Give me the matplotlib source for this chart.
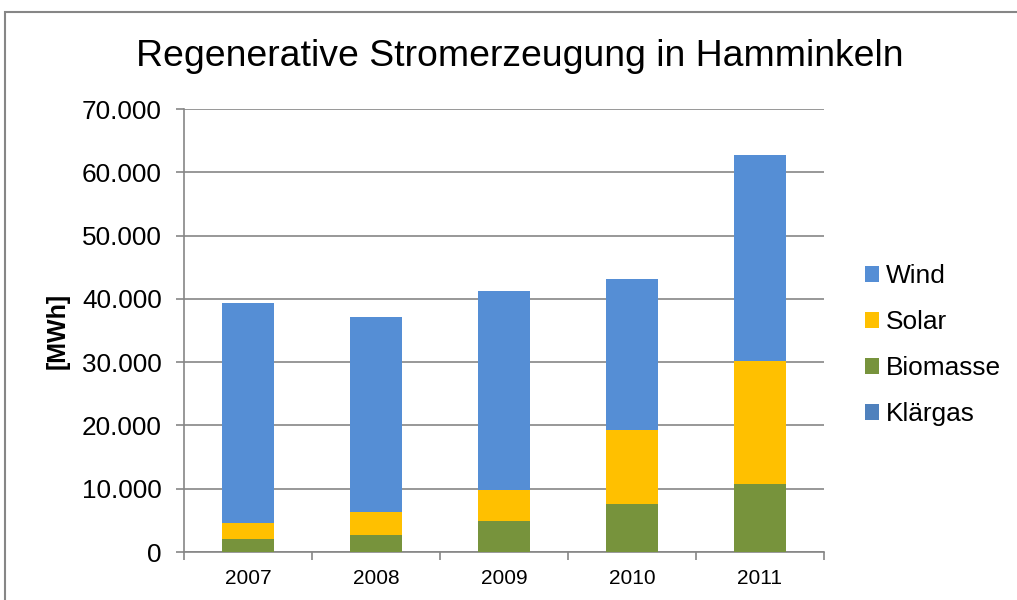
import matplotlib.pyplot as plt
from matplotlib.patches import Rectangle
from matplotlib.ticker import FuncFormatter, FixedLocator
import numpy as np

plt.rcParams['font.family'] = ['Liberation Sans', 'DejaVu Sans']

# Daten [MWh]
jahre = ['2007', '2008', '2009', '2010', '2011']
klaergas = [0, 0, 0, 0, 0]
biomasse = [2050, 2700, 4850, 7600, 10700]
solar = [2600, 3550, 4950, 11600, 19500]
wind = [34650, 30850, 31400, 23900, 32500]

farben = {'Wind': '#558ED5', 'Solar': '#FFC000', 'Biomasse': '#77933C', 'Klärgas': '#4F81BD'}

fig = plt.figure(figsize=(10.17, 6), dpi=100)
ax = fig.add_axes([184/1017, 1-552/600, (824-184)/1017, (552-109)/600])

x = np.arange(len(jahre))
breite = 0.41
unten = np.zeros(len(jahre))
handles = {}
for name, werte in [('Klärgas', klaergas), ('Biomasse', biomasse), ('Solar', solar), ('Wind', wind)]:
    h = ax.bar(x, werte, breite, bottom=unten, color=farben[name], label=name, zorder=3)
    handles[name] = h
    unten = unten + np.array(werte)

ax.set_xlim(-0.5, len(jahre) - 0.5)
ax.set_ylim(0, 70000)
ax.set_yticks(np.arange(0, 70001, 10000))
ax.yaxis.set_major_formatter(FuncFormatter(lambda v, p: '0' if v == 0 else f'{int(v):,}'.replace(',', '.')))
ax.grid(axis='y', color='#868686', linewidth=1.2, zorder=0)

ax.set_xticks(x)
ax.set_xticklabels(jahre, fontsize=15)
ax.xaxis.set_minor_locator(FixedLocator(np.arange(-0.5, len(jahre), 1)))
ax.tick_params(axis='x', which='major', length=0, pad=12)
ax.tick_params(axis='x', which='minor', length=6, color='#868686', width=1.2)
ax.tick_params(axis='y', length=6, color='#868686', width=1.2, labelsize=18.8, pad=10)

for s in ['top', 'right']:
    ax.spines[s].set_visible(False)
for s in ['left', 'bottom']:
    ax.spines[s].set_color('#868686')
    ax.spines[s].set_linewidth(1.2)

ax.set_ylabel('[MWh]', fontsize=18, fontweight='bold', labelpad=9)

fig.text(0.511, 0.905, 'Regenerative Stromerzeugung in Hamminkeln', ha='center', va='center', fontsize=26.9)

reihenfolge = ['Wind', 'Solar', 'Biomasse', 'Klärgas']
leg = fig.legend([handles[n] for n in reihenfolge], reihenfolge, loc='center left',
                 bbox_to_anchor=(841/1017, 1-345/600), frameon=False, fontsize=18.9,
                 handlelength=0.55, handleheight=0.55, handletextpad=0.25, labelspacing=0.84)

fig.patches.append(Rectangle((5/1017, -0.05), 1.2, 1-12/600 + 0.05, transform=fig.transFigure,
                             fill=False, edgecolor='#868686', linewidth=1.5))

fig.savefig('out.png', dpi=100)
